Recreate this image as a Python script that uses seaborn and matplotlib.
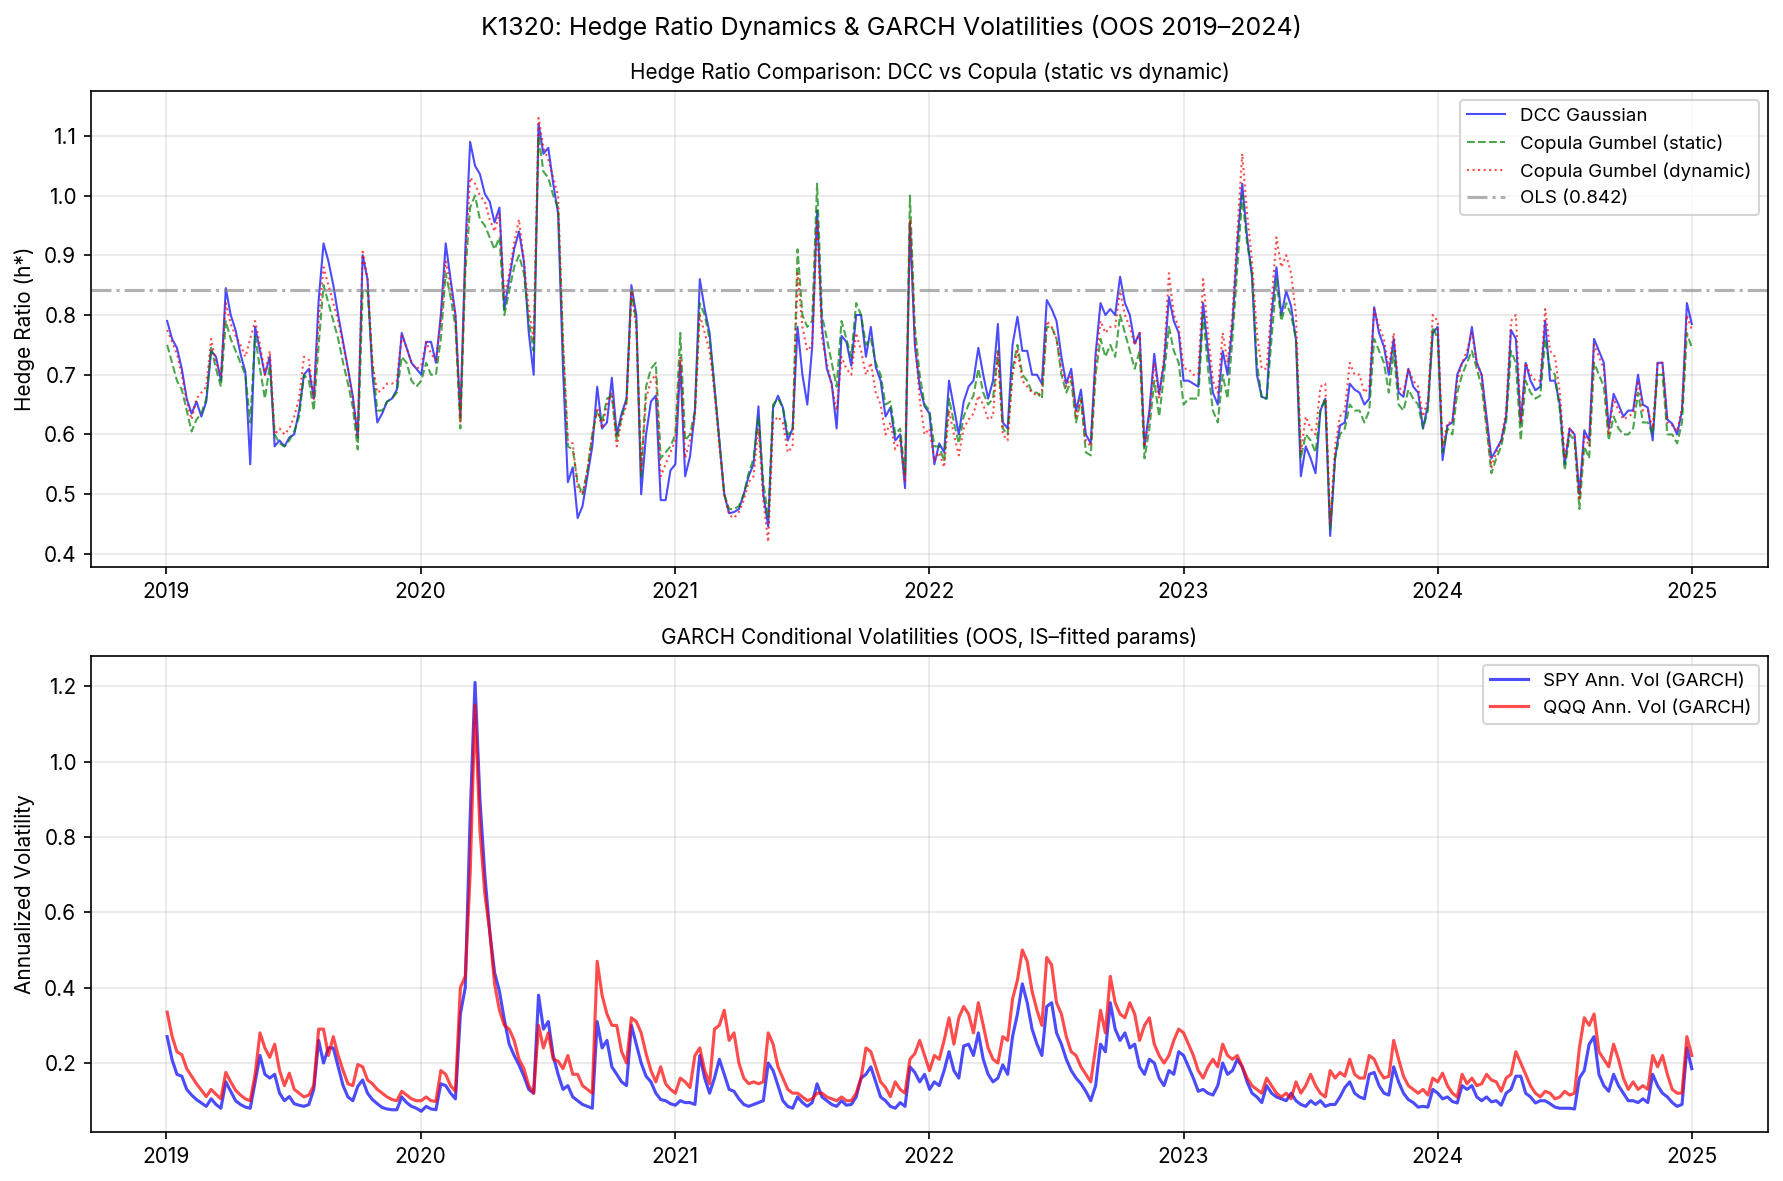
import numpy as np
import pandas as pd
import matplotlib
matplotlib.use("Agg")
import matplotlib.pyplot as plt
import matplotlib.dates as mdates
import seaborn as sns

# ---------------- data (weekly readings, OOS 2019-01-02 .. 2024-12-31) ----------------
start_date = "2019-01-02"
end_date = "2024-12-31"
ols_hedge = 0.842

dcc_gaussian = [
    0.79, 0.76, 0.745, 0.71, 0.66, 0.635, 0.655, 0.63, 0.655, 0.74,
    0.73, 0.69, 0.845, 0.80, 0.775, 0.735, 0.705, 0.55, 0.78, 0.74,
    0.70, 0.73, 0.58, 0.59, 0.58, 0.595, 0.60, 0.64, 0.70, 0.71,
    0.66, 0.825, 0.92, 0.89, 0.85, 0.80, 0.755, 0.71, 0.663, 0.595,
    0.90, 0.86, 0.70, 0.62, 0.635, 0.655, 0.66, 0.675, 0.77, 0.745,
    0.72, 0.71, 0.70, 0.755, 0.755, 0.72, 0.80, 0.92, 0.86, 0.80,
    0.63, 0.908, 1.09, 1.05, 1.036, 1.003, 0.99, 0.955, 0.98, 0.81,
    0.86, 0.91, 0.94, 0.89, 0.77, 0.70, 1.12, 1.07, 1.08, 1.02,
    0.97, 0.71, 0.52, 0.545, 0.46, 0.48, 0.53, 0.58, 0.68, 0.61,
    0.62, 0.695, 0.60, 0.635, 0.66, 0.85, 0.80, 0.50, 0.60, 0.655,
    0.665, 0.49, 0.49, 0.54, 0.55, 0.72, 0.53, 0.563, 0.64, 0.86,
    0.81, 0.77, 0.68, 0.59, 0.50, 0.468, 0.47, 0.475, 0.50, 0.53,
    0.55, 0.647, 0.50, 0.446, 0.645, 0.665, 0.645, 0.59, 0.61, 0.78,
    0.70, 0.65, 0.747, 0.975, 0.78, 0.71, 0.685, 0.61, 0.765, 0.755,
    0.715, 0.80, 0.80, 0.73, 0.78, 0.713, 0.69, 0.63, 0.645, 0.59,
    0.60, 0.51, 0.955, 0.75, 0.68, 0.647, 0.635, 0.55, 0.585, 0.57,
    0.69, 0.645, 0.60, 0.655, 0.68, 0.69, 0.745, 0.70, 0.66, 0.69,
    0.785, 0.62, 0.61, 0.75, 0.797, 0.74, 0.74, 0.70, 0.70, 0.685,
    0.825, 0.81, 0.79, 0.73, 0.685, 0.71, 0.64, 0.675, 0.60, 0.585,
    0.735, 0.82, 0.80, 0.81, 0.80, 0.864, 0.82, 0.80, 0.752, 0.77,
    0.58, 0.64, 0.735, 0.668, 0.72, 0.83, 0.79, 0.77, 0.69, 0.69,
    0.685, 0.68, 0.82, 0.74, 0.67, 0.65, 0.74, 0.70, 0.785, 0.92,
    1.02, 0.93, 0.864, 0.70, 0.663, 0.66, 0.80, 0.88, 0.80, 0.84,
    0.815, 0.758, 0.53, 0.58, 0.56, 0.535, 0.64, 0.66, 0.43, 0.56,
    0.615, 0.62, 0.685, 0.675, 0.67, 0.65, 0.66, 0.813, 0.77, 0.747,
    0.70, 0.76, 0.67, 0.663, 0.71, 0.68, 0.67, 0.61, 0.65, 0.77,
    0.78, 0.557, 0.615, 0.62, 0.70, 0.72, 0.73, 0.78, 0.72, 0.70,
    0.63, 0.56, 0.575, 0.59, 0.63, 0.775, 0.76, 0.618, 0.72, 0.69,
    0.674, 0.68, 0.79, 0.69, 0.69, 0.65, 0.55, 0.61, 0.60, 0.50,
    0.607, 0.59, 0.76, 0.74, 0.72, 0.61, 0.668, 0.65, 0.63, 0.64,
    0.64, 0.70, 0.65, 0.645, 0.59, 0.72, 0.72, 0.625, 0.618, 0.60,
    0.64, 0.82, 0.785,
]

gumbel_static = [
    0.75, 0.72, 0.69, 0.675, 0.64, 0.605, 0.625, 0.635, 0.66, 0.745,
    0.71, 0.68, 0.79, 0.76, 0.74, 0.72, 0.70, 0.62, 0.765, 0.71,
    0.66, 0.715, 0.60, 0.585, 0.58, 0.59, 0.605, 0.63, 0.70, 0.69,
    0.64, 0.75, 0.85, 0.82, 0.79, 0.76, 0.72, 0.685, 0.645, 0.575,
    0.84, 0.84, 0.72, 0.64, 0.64, 0.655, 0.66, 0.67, 0.73, 0.72,
    0.69, 0.68, 0.69, 0.72, 0.70, 0.70, 0.76, 0.87, 0.83, 0.78,
    0.61, 0.87, 0.98, 1.0, 0.96, 0.95, 0.93, 0.91, 0.93, 0.80,
    0.84, 0.88, 0.90, 0.87, 0.79, 0.74, 1.10, 1.04, 1.03, 1.0,
    0.98, 0.75, 0.58, 0.575, 0.52, 0.50, 0.54, 0.60, 0.64, 0.62,
    0.66, 0.665, 0.59, 0.63, 0.655, 0.84, 0.79, 0.53, 0.68, 0.71,
    0.72, 0.56, 0.57, 0.58, 0.60, 0.77, 0.59, 0.60, 0.64, 0.82,
    0.80, 0.76, 0.68, 0.59, 0.50, 0.475, 0.475, 0.48, 0.50, 0.535,
    0.56, 0.63, 0.52, 0.46, 0.65, 0.66, 0.645, 0.60, 0.605, 0.91,
    0.80, 0.78, 0.79, 1.02, 0.80, 0.76, 0.72, 0.68, 0.79, 0.76,
    0.73, 0.82, 0.80, 0.75, 0.76, 0.72, 0.70, 0.65, 0.655, 0.60,
    0.61, 0.53, 1.0, 0.78, 0.70, 0.65, 0.64, 0.58, 0.58, 0.555,
    0.66, 0.62, 0.585, 0.63, 0.65, 0.665, 0.71, 0.67, 0.65, 0.66,
    0.74, 0.61, 0.60, 0.71, 0.75, 0.70, 0.69, 0.67, 0.67, 0.66,
    0.78, 0.78, 0.76, 0.70, 0.67, 0.69, 0.62, 0.66, 0.57, 0.565,
    0.70, 0.76, 0.73, 0.75, 0.73, 0.80, 0.77, 0.74, 0.71, 0.74,
    0.56, 0.61, 0.69, 0.63, 0.70, 0.78, 0.74, 0.72, 0.65, 0.66,
    0.66, 0.66, 0.80, 0.71, 0.64, 0.62, 0.70, 0.66, 0.76, 0.88,
    1.0, 0.92, 0.87, 0.72, 0.66, 0.66, 0.76, 0.86, 0.79, 0.82,
    0.80, 0.76, 0.56, 0.60, 0.59, 0.57, 0.64, 0.66, 0.44, 0.56,
    0.60, 0.61, 0.65, 0.64, 0.64, 0.62, 0.64, 0.76, 0.74, 0.72,
    0.67, 0.74, 0.65, 0.64, 0.675, 0.66, 0.65, 0.61, 0.64, 0.78,
    0.76, 0.57, 0.61, 0.60, 0.67, 0.70, 0.72, 0.74, 0.71, 0.68,
    0.61, 0.535, 0.56, 0.58, 0.62, 0.74, 0.72, 0.59, 0.69, 0.67,
    0.66, 0.665, 0.76, 0.71, 0.70, 0.64, 0.54, 0.60, 0.59, 0.475,
    0.58, 0.56, 0.72, 0.70, 0.68, 0.59, 0.63, 0.61, 0.60, 0.60,
    0.61, 0.67, 0.62, 0.62, 0.60, 0.70, 0.70, 0.60, 0.60, 0.585,
    0.62, 0.77, 0.745,
]

gumbel_dynamic = [
    0.775, 0.755, 0.735, 0.70, 0.655, 0.625, 0.66, 0.67, 0.68, 0.76,
    0.72, 0.70, 0.82, 0.785, 0.765, 0.75, 0.73, 0.76, 0.79, 0.75,
    0.70, 0.74, 0.60, 0.61, 0.60, 0.61, 0.63, 0.66, 0.73, 0.725,
    0.66, 0.79, 0.88, 0.85, 0.82, 0.79, 0.75, 0.71, 0.66, 0.60,
    0.91, 0.86, 0.72, 0.67, 0.675, 0.685, 0.685, 0.69, 0.765, 0.745,
    0.72, 0.71, 0.715, 0.755, 0.735, 0.725, 0.79, 0.89, 0.85, 0.80,
    0.62, 0.89, 1.03, 1.02, 1.0, 0.99, 0.96, 0.94, 0.97, 0.83,
    0.87, 0.92, 0.96, 0.89, 0.81, 0.76, 1.13, 1.08, 1.06, 1.03,
    1.0, 0.76, 0.59, 0.585, 0.51, 0.50, 0.54, 0.60, 0.645, 0.61,
    0.65, 0.67, 0.58, 0.625, 0.65, 0.84, 0.78, 0.54, 0.66, 0.69,
    0.70, 0.53, 0.55, 0.57, 0.59, 0.73, 0.56, 0.59, 0.63, 0.80,
    0.77, 0.74, 0.67, 0.58, 0.50, 0.465, 0.46, 0.47, 0.49, 0.52,
    0.53, 0.61, 0.49, 0.42, 0.62, 0.63, 0.62, 0.57, 0.58, 0.87,
    0.78, 0.74, 0.75, 0.96, 0.76, 0.72, 0.68, 0.64, 0.73, 0.71,
    0.70, 0.77, 0.74, 0.70, 0.72, 0.67, 0.65, 0.60, 0.62, 0.575,
    0.59, 0.52, 0.96, 0.76, 0.66, 0.60, 0.61, 0.555, 0.57, 0.545,
    0.64, 0.60, 0.565, 0.61, 0.625, 0.635, 0.665, 0.65, 0.625, 0.63,
    0.74, 0.60, 0.59, 0.70, 0.74, 0.69, 0.68, 0.67, 0.665, 0.67,
    0.79, 0.78, 0.76, 0.71, 0.68, 0.70, 0.63, 0.66, 0.59, 0.58,
    0.72, 0.79, 0.77, 0.78, 0.78, 0.84, 0.80, 0.78, 0.75, 0.77,
    0.58, 0.63, 0.72, 0.66, 0.73, 0.87, 0.80, 0.78, 0.71, 0.71,
    0.70, 0.70, 0.86, 0.77, 0.69, 0.67, 0.77, 0.72, 0.80, 0.94,
    1.07, 0.97, 0.89, 0.77, 0.71, 0.71, 0.82, 0.93, 0.88, 0.90,
    0.87, 0.80, 0.57, 0.63, 0.61, 0.60, 0.68, 0.685, 0.45, 0.58,
    0.63, 0.64, 0.72, 0.70, 0.70, 0.67, 0.68, 0.81, 0.78, 0.76,
    0.71, 0.77, 0.68, 0.67, 0.71, 0.69, 0.68, 0.63, 0.66, 0.80,
    0.79, 0.58, 0.62, 0.62, 0.69, 0.72, 0.74, 0.77, 0.72, 0.70,
    0.62, 0.545, 0.57, 0.59, 0.64, 0.79, 0.80, 0.62, 0.72, 0.70,
    0.69, 0.69, 0.81, 0.74, 0.73, 0.67, 0.56, 0.61, 0.60, 0.49,
    0.60, 0.58, 0.75, 0.73, 0.71, 0.60, 0.66, 0.64, 0.625, 0.63,
    0.635, 0.69, 0.64, 0.64, 0.61, 0.72, 0.72, 0.62, 0.615, 0.605,
    0.645, 0.80, 0.775,
]

spy_vol = [
    0.27, 0.209, 0.17, 0.165, 0.13, 0.115, 0.103, 0.094, 0.085, 0.105,
    0.09, 0.08, 0.15, 0.125, 0.10, 0.09, 0.083, 0.08, 0.15, 0.22,
    0.17, 0.16, 0.17, 0.12, 0.10, 0.111, 0.092, 0.088, 0.085, 0.09,
    0.13, 0.26, 0.20, 0.24, 0.24, 0.19, 0.14, 0.11, 0.10, 0.138,
    0.155, 0.12, 0.103, 0.092, 0.082, 0.078, 0.076, 0.076, 0.11, 0.095,
    0.085, 0.08, 0.072, 0.085, 0.078, 0.076, 0.145, 0.14, 0.12, 0.105,
    0.33, 0.40, 0.85, 1.21, 0.90, 0.70, 0.55, 0.44, 0.39, 0.315,
    0.25, 0.22, 0.195, 0.165, 0.13, 0.12, 0.38, 0.29, 0.31, 0.22,
    0.17, 0.13, 0.14, 0.11, 0.10, 0.09, 0.085, 0.08, 0.31, 0.24,
    0.26, 0.19, 0.17, 0.15, 0.14, 0.30, 0.25, 0.20, 0.165, 0.15,
    0.12, 0.103, 0.10, 0.092, 0.088, 0.10, 0.095, 0.095, 0.09, 0.22,
    0.16, 0.12, 0.16, 0.21, 0.17, 0.13, 0.125, 0.105, 0.09, 0.085,
    0.09, 0.095, 0.10, 0.20, 0.18, 0.14, 0.10, 0.085, 0.08, 0.11,
    0.095, 0.085, 0.095, 0.145, 0.11, 0.10, 0.09, 0.085, 0.10, 0.088,
    0.09, 0.11, 0.16, 0.17, 0.19, 0.15, 0.11, 0.10, 0.085, 0.08,
    0.095, 0.085, 0.19, 0.175, 0.15, 0.17, 0.13, 0.15, 0.14, 0.18,
    0.23, 0.18, 0.16, 0.245, 0.25, 0.22, 0.28, 0.21, 0.17, 0.15,
    0.16, 0.195, 0.17, 0.27, 0.33, 0.41, 0.36, 0.29, 0.25, 0.22,
    0.35, 0.36, 0.28, 0.25, 0.21, 0.18, 0.16, 0.145, 0.125, 0.10,
    0.14, 0.25, 0.23, 0.36, 0.29, 0.26, 0.28, 0.24, 0.25, 0.19,
    0.17, 0.21, 0.20, 0.16, 0.14, 0.18, 0.17, 0.23, 0.22, 0.19,
    0.16, 0.125, 0.13, 0.12, 0.115, 0.14, 0.20, 0.17, 0.18, 0.21,
    0.19, 0.15, 0.12, 0.11, 0.095, 0.14, 0.12, 0.11, 0.105, 0.10,
    0.12, 0.10, 0.09, 0.085, 0.10, 0.09, 0.10, 0.085, 0.09, 0.09,
    0.11, 0.135, 0.15, 0.12, 0.11, 0.105, 0.17, 0.175, 0.14, 0.12,
    0.115, 0.19, 0.15, 0.12, 0.103, 0.095, 0.083, 0.085, 0.083, 0.13,
    0.12, 0.105, 0.11, 0.098, 0.094, 0.14, 0.13, 0.14, 0.11, 0.10,
    0.11, 0.097, 0.10, 0.088, 0.12, 0.13, 0.165, 0.165, 0.12, 0.11,
    0.094, 0.10, 0.10, 0.092, 0.083, 0.08, 0.08, 0.08, 0.078, 0.16,
    0.18, 0.25, 0.27, 0.17, 0.14, 0.125, 0.17, 0.14, 0.12, 0.10,
    0.10, 0.095, 0.105, 0.095, 0.17, 0.14, 0.12, 0.11, 0.095, 0.085,
    0.09, 0.24, 0.185,
]

qqq_vol = [
    0.335, 0.271, 0.23, 0.222, 0.185, 0.165, 0.145, 0.128, 0.111, 0.13,
    0.117, 0.105, 0.175, 0.15, 0.128, 0.115, 0.105, 0.10, 0.17, 0.28,
    0.24, 0.215, 0.25, 0.18, 0.14, 0.173, 0.13, 0.12, 0.11, 0.115,
    0.14, 0.29, 0.29, 0.22, 0.27, 0.22, 0.18, 0.145, 0.14, 0.196,
    0.19, 0.155, 0.145, 0.13, 0.12, 0.11, 0.103, 0.10, 0.125, 0.115,
    0.105, 0.10, 0.10, 0.11, 0.10, 0.098, 0.18, 0.17, 0.14, 0.125,
    0.40, 0.43, 0.70, 1.15, 0.82, 0.65, 0.55, 0.41, 0.34, 0.30,
    0.29, 0.26, 0.21, 0.185, 0.14, 0.12, 0.30, 0.24, 0.28, 0.21,
    0.205, 0.185, 0.22, 0.17, 0.17, 0.14, 0.13, 0.12, 0.47, 0.38,
    0.33, 0.30, 0.30, 0.23, 0.20, 0.32, 0.31, 0.28, 0.225, 0.18,
    0.15, 0.19, 0.145, 0.13, 0.12, 0.16, 0.15, 0.135, 0.22, 0.24,
    0.18, 0.145, 0.29, 0.30, 0.34, 0.26, 0.28, 0.20, 0.16, 0.145,
    0.15, 0.145, 0.15, 0.28, 0.25, 0.19, 0.16, 0.13, 0.12, 0.12,
    0.11, 0.10, 0.105, 0.12, 0.12, 0.11, 0.105, 0.10, 0.11, 0.10,
    0.10, 0.12, 0.16, 0.24, 0.23, 0.19, 0.15, 0.135, 0.111, 0.15,
    0.13, 0.12, 0.21, 0.225, 0.26, 0.22, 0.18, 0.22, 0.21, 0.26,
    0.32, 0.25, 0.32, 0.35, 0.33, 0.28, 0.36, 0.30, 0.24, 0.21,
    0.20, 0.27, 0.26, 0.37, 0.42, 0.50, 0.47, 0.39, 0.34, 0.30,
    0.48, 0.46, 0.36, 0.33, 0.27, 0.23, 0.22, 0.19, 0.17, 0.15,
    0.24, 0.34, 0.28, 0.43, 0.36, 0.33, 0.32, 0.36, 0.33, 0.26,
    0.30, 0.32, 0.25, 0.22, 0.20, 0.22, 0.26, 0.29, 0.28, 0.25,
    0.22, 0.18, 0.16, 0.19, 0.21, 0.19, 0.25, 0.22, 0.21, 0.22,
    0.19, 0.16, 0.14, 0.13, 0.12, 0.16, 0.14, 0.12, 0.11, 0.12,
    0.105, 0.15, 0.12, 0.14, 0.17, 0.14, 0.12, 0.11, 0.18, 0.16,
    0.175, 0.165, 0.21, 0.17, 0.16, 0.16, 0.22, 0.21, 0.18, 0.16,
    0.165, 0.26, 0.21, 0.165, 0.14, 0.13, 0.12, 0.13, 0.115, 0.16,
    0.15, 0.173, 0.14, 0.12, 0.11, 0.17, 0.145, 0.16, 0.14, 0.145,
    0.17, 0.155, 0.15, 0.125, 0.16, 0.17, 0.23, 0.20, 0.17, 0.14,
    0.12, 0.11, 0.125, 0.12, 0.105, 0.11, 0.125, 0.115, 0.12, 0.24,
    0.32, 0.30, 0.33, 0.23, 0.21, 0.19, 0.25, 0.21, 0.16, 0.13,
    0.15, 0.13, 0.14, 0.13, 0.22, 0.19, 0.22, 0.17, 0.13, 0.12,
    0.12, 0.27, 0.22,
]

# ---------------- figure ----------------
dates = pd.date_range(start_date, end_date, periods=len(dcc_gaussian))

plt.rcParams["font.family"] = ["Inter", "DejaVu Sans"]
plt.rcParams["axes.unicode_minus"] = False

fig, (ax1, ax2) = plt.subplots(2, 1, figsize=(1783 / 150, 1181 / 150), dpi=150)
fig.subplots_adjust(left=0.051, right=0.9916, top=0.9229, bottom=0.0415, hspace=0.187)

sns.lineplot(x=dates, y=dcc_gaussian, ax=ax1, color="blue", alpha=0.7, linewidth=1.0,
             label="DCC Gaussian")
sns.lineplot(x=dates, y=gumbel_static, ax=ax1, color="green", alpha=0.7, linewidth=1.0,
             linestyle="--", label="Copula Gumbel (static)")
sns.lineplot(x=dates, y=gumbel_dynamic, ax=ax1, color="red", alpha=0.7, linewidth=1.0,
             linestyle=":", label="Copula Gumbel (dynamic)")
ax1.axhline(ols_hedge, color="gray", linestyle="-.", alpha=0.6, linewidth=1.5,
            label=f"OLS ({ols_hedge:.3f})")
ax1.set_title("Hedge Ratio Comparison: DCC vs Copula (static vs dynamic)", fontsize=10)
ax1.set_ylabel("Hedge Ratio (h*)", fontsize=10)
ax1.set_xlabel("")
ax1.set_ylim(0.378, 1.175)
ax1.legend(loc="upper right", fontsize=9)
ax1.grid(True, alpha=0.3)

sns.lineplot(x=dates, y=spy_vol, ax=ax2, color="blue", alpha=0.7, linewidth=1.5,
             label="SPY Ann. Vol (GARCH)")
sns.lineplot(x=dates, y=qqq_vol, ax=ax2, color="red", alpha=0.7, linewidth=1.5,
             label="QQQ Ann. Vol (GARCH)")
ax2.set_title("GARCH Conditional Volatilities (OOS, IS–fitted params)", fontsize=10)
ax2.set_ylabel("Annualized Volatility", fontsize=10)
ax2.set_xlabel("")
ax2.set_ylim(0.017, 1.28)
ax2.legend(loc="upper right", fontsize=9)
ax2.grid(True, alpha=0.3)

for ax in (ax1, ax2):
    ax.xaxis.set_major_locator(mdates.YearLocator())
    ax.xaxis.set_major_formatter(mdates.DateFormatter("%Y"))
    ax.tick_params(labelsize=10)

fig.suptitle("K1320: Hedge Ratio Dynamics & GARCH Volatilities (OOS 2019–2024)",
             fontsize=12, y=0.987)

fig.savefig("out.png", dpi=150)
